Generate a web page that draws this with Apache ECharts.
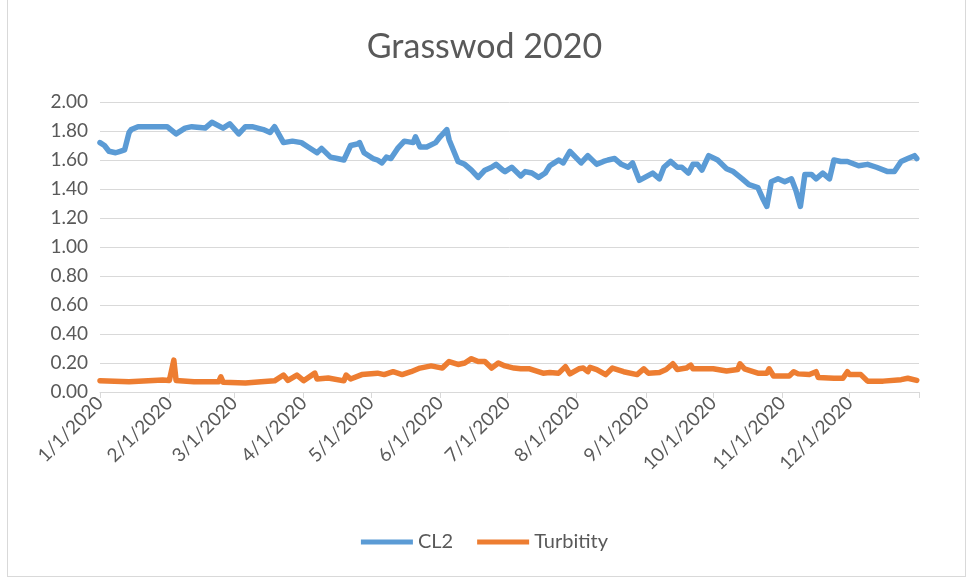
<!DOCTYPE html>
<html>
<head>
<meta charset="utf-8">
<script src="https://cdn.jsdelivr.net/npm/echarts@6/dist/echarts.min.js"></script>
<style>
html,body{margin:0;padding:0;background:#fff;}
#frame{position:absolute;left:7px;top:0;width:959px;height:577px;border:1px solid #d9d9d9;border-top:none;box-sizing:border-box;}
#chart{position:absolute;left:0;top:0;width:969px;height:579px;}
</style>
</head>
<body>
<div id="frame"></div>
<div id="chart"></div>
<script>
// ---- Data ----
const chartTitle = 'Grasswod 2020';
const seriesNames = ['CL2', 'Turbitity'];
const monthLabels = ['1/1/2020','2/1/2020','3/1/2020','4/1/2020','5/1/2020','6/1/2020','7/1/2020','8/1/2020','9/1/2020','10/1/2020','11/1/2020','12/1/2020'];
const yTicks = [0,0.2,0.4,0.6,0.8,1.0,1.2,1.4,1.6,1.8,2.0];

const cl2Dates = ['1/1','1/3','1/5','1/8','1/10','1/12','1/14','1/15','1/18','1/23','1/28','1/31',
 '2/4','2/8','2/11','2/17','2/20','2/25','2/28','3/3','3/6','3/9','3/14','3/17','3/19','3/23','3/27','3/31',
 '4/3','4/7','4/9','4/13','4/16','4/19','4/22','4/25','4/26','4/28','5/2','5/4','5/6','5/8','5/10','5/13',
 '5/16','5/20','5/21','5/23','5/26','5/30','6/1','6/4','6/5','6/9','6/12','6/15','6/18','6/21','6/24','6/26',
 '6/29','6/30','7/3','7/7','7/9','7/12','7/15','7/18','7/20','7/22','7/24','7/26','7/29','8/3','8/6','8/10',
 '8/13','8/15','8/18','8/21','8/24','8/26','8/29','9/4','9/7','9/9','9/12','9/15','9/17','9/20','9/22','9/24',
 '9/26','9/29','10/3','10/7','10/10','10/14','10/17','10/21','10/23','10/25','10/27','10/30','11/2','11/5',
 '11/7','11/9','11/11','11/14','11/16','11/19','11/22','11/24','11/27','11/30','12/5','12/9','12/13','12/18',
 '12/21','12/24','12/27','12/30','12/31'];
const cl2Values = [1.72,1.70,1.66,1.65,1.66,1.67,1.79,1.81,1.83,1.83,1.83,1.83,
 1.78,1.82,1.83,1.82,1.86,1.82,1.85,1.78,1.83,1.83,1.81,1.79,1.83,1.72,1.73,1.72,
 1.69,1.65,1.68,1.62,1.61,1.60,1.70,1.71,1.72,1.65,1.61,1.60,1.58,1.62,1.61,1.68,
 1.73,1.72,1.76,1.69,1.69,1.72,1.76,1.81,1.74,1.59,1.57,1.53,1.48,1.53,1.55,1.57,
 1.53,1.52,1.55,1.49,1.52,1.51,1.48,1.51,1.56,1.58,1.60,1.58,1.66,1.58,1.63,1.57,
 1.59,1.60,1.61,1.57,1.55,1.58,1.46,1.51,1.47,1.55,1.59,1.55,1.55,1.51,1.57,1.57,
 1.53,1.63,1.60,1.54,1.52,1.47,1.43,1.41,1.34,1.28,1.45,1.47,1.45,1.47,
 1.39,1.28,1.50,1.50,1.47,1.51,1.47,1.60,1.59,1.59,1.56,1.57,1.55,1.52,
 1.52,1.59,1.61,1.63,1.61];

const turbDates = ['1/1','1/14','1/29','2/1','2/3','2/4','2/12','2/23','2/24','2/25','3/6','3/13','3/19','3/23',
 '3/25','3/29','4/1','4/6','4/7','4/12','4/19','4/20','4/22','4/27','5/4','5/7','5/11','5/15','5/19','5/23',
 '5/28','6/2','6/5','6/9','6/12','6/15','6/18','6/21','6/24','6/27','6/30','7/4','7/7','7/11','7/17','7/20',
 '7/24','7/27','7/29','8/2','8/4','8/6','8/7','8/10','8/14','8/17','8/22','8/28','8/31','9/2','9/7','9/10',
 '9/13','9/15','9/19','9/21','9/22','10/1','10/7','10/12','10/13','10/15','10/21','10/25','10/26','10/28',
 '11/4','11/6','11/8','11/13','11/16','11/17','11/24','11/28','11/30','12/1','12/6','12/9','12/16','12/24',
 '12/27','12/31'];
const turbValues = [0.078,0.071,0.083,0.080,0.220,0.080,0.071,0.070,0.105,0.068,0.062,0.070,0.077,0.117,
 0.080,0.117,0.078,0.130,0.090,0.097,0.077,0.117,0.090,0.120,0.130,0.120,0.140,0.120,0.140,0.165,
 0.180,0.165,0.210,0.190,0.200,0.230,0.210,0.210,0.165,0.200,0.180,0.165,0.160,0.160,0.130,0.135,
 0.130,0.175,0.125,0.160,0.165,0.140,0.170,0.155,0.120,0.165,0.140,0.120,0.160,0.130,0.135,0.155,
 0.195,0.155,0.165,0.185,0.160,0.160,0.145,0.155,0.195,0.160,0.130,0.130,0.160,0.110,
 0.110,0.140,0.125,0.120,0.140,0.100,0.095,0.095,0.140,0.120,0.120,0.075,0.075,0.085,
 0.095,0.080];

// ---- helpers ----
const YEAR = 2020;
function dayIndex(md){
  const p = md.split('/');
  return (Date.UTC(YEAR, +p[0]-1, +p[1]) - Date.UTC(YEAR,0,1)) / 86400000;
}
const monthStarts = monthLabels.map(s => dayIndex(s.split('/').slice(0,2).join('/')));
const yearEnd = (Date.UTC(YEAR+1,0,1) - Date.UTC(YEAR,0,1)) / 86400000;
const labelByDay = {};
monthStarts.forEach((d,i)=>{ labelByDay[d] = monthLabels[i]; });

const cl2Data = cl2Dates.map((d,i)=>[dayIndex(d), cl2Values[i]]);
const turbData = turbDates.map((d,i)=>[dayIndex(d), turbValues[i]]);

const txt = '#595959';
const font = 'Lato';
const chart = echarts.init(document.getElementById('chart'));
chart.setOption({
  animation:false,
  backgroundColor:'transparent',
  title:{text:chartTitle,left:'center',top:25,textStyle:{fontFamily:font,fontWeight:'normal',fontSize:34,color:txt}},
  grid:{left:100,right:50,top:102,bottom:187,containLabel:false},
  legend:{bottom:22,left:'center',itemWidth:52,itemHeight:5,itemGap:24,icon:'rect',
    textStyle:{fontFamily:font,fontSize:20,color:txt},data:seriesNames},
  xAxis:{type:'value',min:0,max:yearEnd,
    axisLine:{show:true,lineStyle:{color:'#d9d9d9',width:1}},
    axisTick:{show:true,length:6,lineStyle:{color:'#d9d9d9'},customValues:monthStarts.concat([yearEnd])},
    axisLabel:{customValues:monthStarts,rotate:45,margin:8,color:txt,fontFamily:font,fontSize:19,
      formatter:v=>labelByDay[v]||''},
    splitLine:{show:false}},
  yAxis:{type:'value',min:0,max:2,interval:0.2,
    axisLine:{show:false},axisTick:{show:false},
    axisLabel:{color:txt,fontFamily:font,fontSize:19,margin:12,formatter:v=>v.toFixed(2)},
    splitLine:{lineStyle:{color:'#d9d9d9',width:1}}},
  series:[
    {name:seriesNames[0],type:'line',data:cl2Data,showSymbol:false,symbol:'none',
     lineStyle:{color:'#5B9BD5',width:5.5,cap:'round',join:'round'},itemStyle:{color:'#5B9BD5'}},
    {name:seriesNames[1],type:'line',data:turbData,showSymbol:false,symbol:'none',
     lineStyle:{color:'#ED7D31',width:5.5,cap:'round',join:'round'},itemStyle:{color:'#ED7D31'}}
  ]
});
</script>
</body>
</html>
